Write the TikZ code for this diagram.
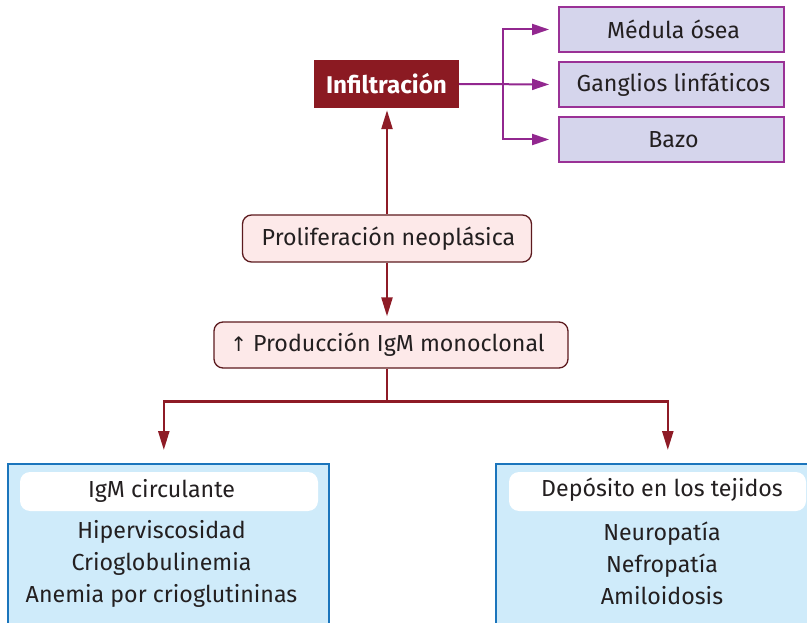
\documentclass[tikz,border=0pt]{standalone}
\usepackage{fontspec}
\setmainfont{Fira Sans}
\newfontfamily\symfont{DejaVu Sans}
\usetikzlibrary{arrows.meta,calc}
\definecolor{infred}{HTML}{8B1A22}
\definecolor{arrred}{HTML}{8E1B26}
\definecolor{pinkfill}{HTML}{FDE9E9}
\definecolor{pinkborder}{HTML}{5C1A1E}
\definecolor{lavfill}{HTML}{D5D5EC}
\definecolor{lavborder}{HTML}{9A3296}
\definecolor{purpline}{HTML}{92278F}
\definecolor{blueborder}{HTML}{1B75BC}
\definecolor{bluefill}{HTML}{CFEBFA}
\definecolor{txt}{HTML}{231F20}
\newcommand{\tfont}{\fontsize{23.2}{27}\selectfont}
\tikzset{
  lavbox/.style={draw=lavborder, fill=lavfill, line width=1.8pt, minimum width=225pt, minimum height=45pt, inner sep=0pt, text=txt, font=\tfont},
  pinkbox/.style={draw=pinkborder, fill=pinkfill, line width=1.3pt, rounded corners=9pt, minimum height=47pt, inner sep=0pt, text=txt, font=\tfont},
  bigbox/.style={draw=blueborder, fill=bluefill, line width=1.6pt, inner sep=0pt},
  whitebox/.style={fill=white, rounded corners=10pt, inner sep=0pt, minimum height=39pt},
  bodytext/.style={text=txt, font=\tfont, inner sep=0pt},
  redarr/.style={draw=arrred, line width=2.4pt},
  purparr/.style={draw=purpline, line width=2pt},
  redtip/.style={-{Triangle[length=19pt,width=11pt]}},
  purptip/.style={-{Triangle[length=17pt,width=11pt]}}
}
\begin{document}
\begin{tikzpicture}[x=1pt,y=-1pt]
\useasboundingbox (0,0) rectangle (807,623);
\clip (0,0) rectangle (807,623);
% top
\node[fill=infred, minimum width=145pt, minimum height=48pt, inner sep=0pt, text=white, font=\bfseries\fontsize{24.2}{28}\selectfont] (infil) at (386.5,84) {Infiltración};
\node[lavbox] (med) at (671.5,29.5) {\hspace*{4pt}Médula ósea};
\node[lavbox] (gang) at (671.5,84.5) {\hspace*{4pt}Ganglios linfáticos};
\node[lavbox] (bazo) at (671.5,139.5) {\hspace*{4pt}Bazo};
% middle
\node[pinkbox, minimum width=289pt] (prolif) at (387,238.5) {\hspace*{3pt}Proliferación neoplásica};
\node[pinkbox, minimum width=354pt, minimum height=46pt] (prod) at (391,345) {\hspace*{-7pt}{\symfont\fontsize{20}{24}\selectfont ↑} Producción IgM monoclonal};
% bottom boxes
\node[bigbox, minimum width=321pt, minimum height=200pt, anchor=north west] (lbox) at (7,463) {};
\node[bigbox, minimum width=340pt, minimum height=200pt, anchor=north west] (rbox) at (495,463) {};
\node[whitebox, minimum width=298pt] (lhead) at (169,491.5) {};
\node[whitebox, minimum width=297pt] (rhead) at (657.5,491.5) {};
\node[bodytext] (ltitle) at (161.5,491) {IgM circulante};
\node[bodytext] (rtitle) at (662,490) {Depósito en los tejidos};
\node[bodytext, align=center, font=\fontsize{23.2}{32}\selectfont] (llist) at (161.5,564) {Hiperviscosidad\\Crioglobulinemia\\Anemia por crioglutininas};
\node[bodytext, align=center, font=\fontsize{23.2}{32}\selectfont] (rlist) at (662,563) {Neuropatía\\Nefropatía\\Amiloidosis};
% connectors
\draw[redarr, redtip, shorten >=2pt] (prolif.north) -- (prolif.north |- infil.south);
\draw[redarr, redtip, shorten >=5pt] (prolif.south) -- (prolif.south |- prod.north);
\coordinate (split) at ($(prolif.south |- prod.south)+(0,33)$);
\draw[redarr] (prolif.south |- prod.south) -- (split);
\draw[redarr, {Triangle[length=19pt,width=11pt]}-{Triangle[length=19pt,width=11pt]}, shorten <=13pt, shorten >=13pt]
  ($(lbox.north)+(-4.5,0)$) |- (split) -| ($(rbox.north)+(2,0)$);
\coordinate (pj) at ($(infil.east)+(44,0)$);
\draw[purparr, purptip, shorten >=9pt] (infil.east) -- (gang.west);
\draw[purparr, {Triangle[length=17pt,width=11pt]}-{Triangle[length=17pt,width=11pt]}, shorten <=9pt, shorten >=9pt]
  (bazo.west) -- (pj |- bazo.west) -- (pj |- med.west) -- (med.west);
\end{tikzpicture}
\end{document}
